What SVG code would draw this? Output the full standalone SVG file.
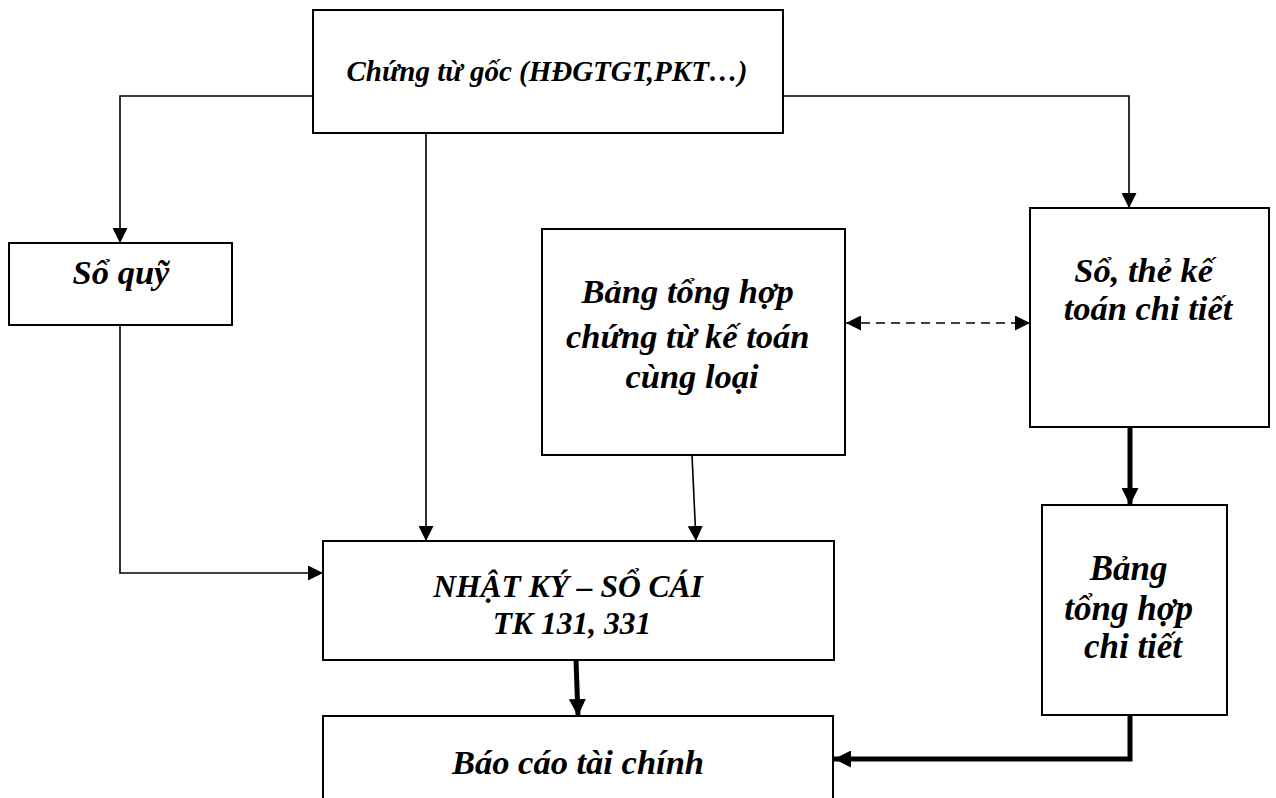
<svg xmlns="http://www.w3.org/2000/svg" width="1276" height="798" viewBox="0 0 1276 798">
  <style>
    .box { fill: #fff; stroke: #000; stroke-width: 2; }
    .t { font-family: "Liberation Serif", "Times New Roman", serif; font-weight: bold; font-style: italic; fill: #000; text-anchor: middle; }
    .thin { fill: none; stroke: #000; stroke-width: 1.6; }
    .thick { fill: none; stroke: #000; stroke-width: 5; }
    .dash { fill: none; stroke: #000; stroke-width: 1.6; stroke-dasharray: 9 6; }
  </style>
  <defs>
    <marker id="arr" viewBox="0 0 10 10" refX="10" refY="5" markerUnits="userSpaceOnUse" markerWidth="15" markerHeight="15" orient="auto">
      <path d="M0,0 L10,5 L0,10 z" fill="#000"/>
    </marker>
    <marker id="arrStart" viewBox="0 0 10 10" refX="0" refY="5" markerUnits="userSpaceOnUse" markerWidth="15" markerHeight="15" orient="auto">
      <path d="M10,0 L0,5 L10,10 z" fill="#000"/>
    </marker>
    <marker id="arrBig" viewBox="0 0 10 10" refX="10" refY="5" markerUnits="userSpaceOnUse" markerWidth="17" markerHeight="17" orient="auto">
      <path d="M0,0 L10,5 L0,10 z" fill="#000"/>
    </marker>
  </defs>

  <!-- connectors -->
  <g id="connectors">
    <path class="thin" d="M313,96 H120 V243" marker-end="url(#arr)"/>
    <path class="thin" d="M783,96 H1129 V208" marker-end="url(#arr)"/>
    <path class="thin" d="M426,133 V541" marker-end="url(#arr)"/>
    <path class="thin" d="M120,325 V573 H323" marker-end="url(#arr)"/>
    <path class="thin" d="M692,455 L696,541" marker-end="url(#arr)"/>
    <path class="dash" d="M846,323 H1030" marker-start="url(#arrStart)" marker-end="url(#arr)"/>
    <path class="thick" d="M1130,427 V505" marker-end="url(#arrBig)"/>
    <path class="thick" d="M576,660 L578,716" marker-end="url(#arrBig)"/>
    <path class="thick" d="M1130,715 V759 H834" marker-end="url(#arrBig)"/>
  </g>

  <!-- source documents -->
  <g id="chung-tu-goc">
    <rect class="box" x="313" y="10" width="470" height="123"/>
    <text class="t" x="547" y="81" font-size="29">Chứng từ gốc (HĐGTGT,PKT…)</text>
  </g>

  <!-- cash book -->
  <g id="so-quy">
    <rect class="box" x="9" y="243" width="223" height="82"/>
    <text class="t" x="121" y="284" font-size="34.5">Sổ quỹ</text>
  </g>

  <!-- summary of documents of the same type -->
  <g id="bang-tong-hop-chung-tu">
    <rect class="box" x="542" y="229" width="303" height="226"/>
    <text class="t" font-size="34.5">
      <tspan x="692" y="303">Bảng tổng hợp</tspan>
      <tspan x="692" y="348">chứng từ kế toán</tspan>
      <tspan x="692" y="388">cùng loại</tspan>
    </text>
  </g>

  <!-- detail books -->
  <g id="so-the-chi-tiet">
    <rect class="box" x="1030" y="208" width="239" height="219"/>
    <text class="t" font-size="34.5">
      <tspan x="1148" y="282">Sổ, thẻ kế</tspan>
      <tspan x="1148" y="320">toán chi tiết</tspan>
    </text>
  </g>

  <!-- general journal-ledger -->
  <g id="nhat-ky-so-cai">
    <rect class="box" x="323" y="541" width="511" height="119"/>
    <text class="t" font-size="31.5">
      <tspan x="572" y="597">NHẬT KÝ – SỔ CÁI</tspan>
      <tspan x="572" y="634">TK 131, 331</tspan>
    </text>
  </g>

  <!-- detail summary -->
  <g id="bang-tong-hop-chi-tiet">
    <rect class="box" x="1042" y="505" width="185" height="210"/>
    <text class="t" font-size="35">
      <tspan x="1133" y="580">Bảng</tspan>
      <tspan x="1133" y="620">tổng hợp</tspan>
      <tspan x="1133" y="658">chi tiết</tspan>
    </text>
  </g>

  <!-- financial statements -->
  <g id="bao-cao-tai-chinh">
    <rect class="box" x="323" y="716" width="510" height="100"/>
    <text class="t" x="578" y="774" font-size="34.5">Báo cáo tài chính</text>
  </g>
</svg>
